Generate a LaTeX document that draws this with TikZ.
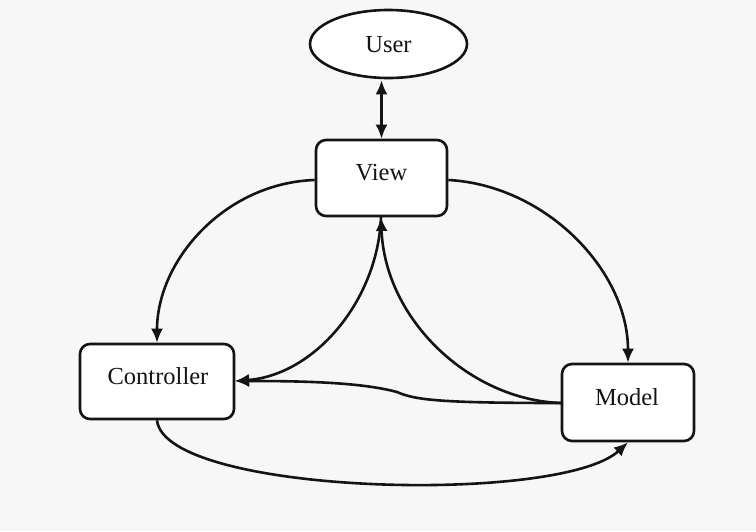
\documentclass[tikz,border=0pt]{standalone}
\usepackage{fontspec}
\setmainfont{Liberation Serif}
\usetikzlibrary{arrows.meta,shapes.geometric}
\definecolor{bg}{RGB}{247,247,247}
\definecolor{ink}{RGB}{20,20,20}
\begin{document}
\begin{tikzpicture}[x=1pt,y=-1pt,
  box/.style={draw=ink,line width=2.6pt,rounded corners=10pt,fill=white,minimum width=#1,align=center,inner sep=0pt},
  conn/.style={draw=ink,line width=2.6pt,-{Latex[length=14pt,width=12pt]}},
  lbl/.style={font=\fontsize{24.5}{28}\selectfont,text=ink}]
\fill[bg] (0,0) rectangle (756,531);
\useasboundingbox (0,0) rectangle (756,531);
\node[draw=ink,line width=2.6pt,ellipse,minimum width=157pt,minimum height=68pt,fill=white] (user) at (388.5,44) {};
\node[lbl] at (388.5,45) {User};
\node[box=131pt,minimum height=76pt] (view) at (381.5,178) {};
\node[lbl] at (381.5,173) {View};
\node[box=154pt,minimum height=75pt] (ctrl) at (157,381.5) {};
\node[lbl] at (158,376) {Controller};
\node[box=132pt,minimum height=77pt] (model) at (628,402.5) {};
\node[lbl] at (627,397) {Model};
\coordinate (vb) at (381,217);
\coordinate (ml) at (561,403);
\coordinate (cr) at (235,381);
\draw[draw=ink,line width=2.6pt,{Latex[length=14pt,width=12pt]}-{Latex[length=14pt,width=12pt]}] (user.south -| view.north) ++(0,1) -- (view.north);
\draw[conn] (view.west |- 0,180) .. controls (225,183) and (157,260) .. (ctrl.north);
\draw[conn] (view.east |- 0,180) .. controls (545,185) and (628,270) .. (model.north);
\draw[conn] (vb) .. controls (378,300) and (315,375) .. (cr);
\draw[conn] (ml) .. controls (470,400) and (385,320) .. (vb);
\draw[conn] (ml) .. controls (440,403) and (415,400) .. (397,392) .. controls (360,382) and (300,381) .. (cr);
\draw[conn] (ctrl.south) .. controls (165,495) and (560,505) .. (model.south);
\end{tikzpicture}
\end{document}
